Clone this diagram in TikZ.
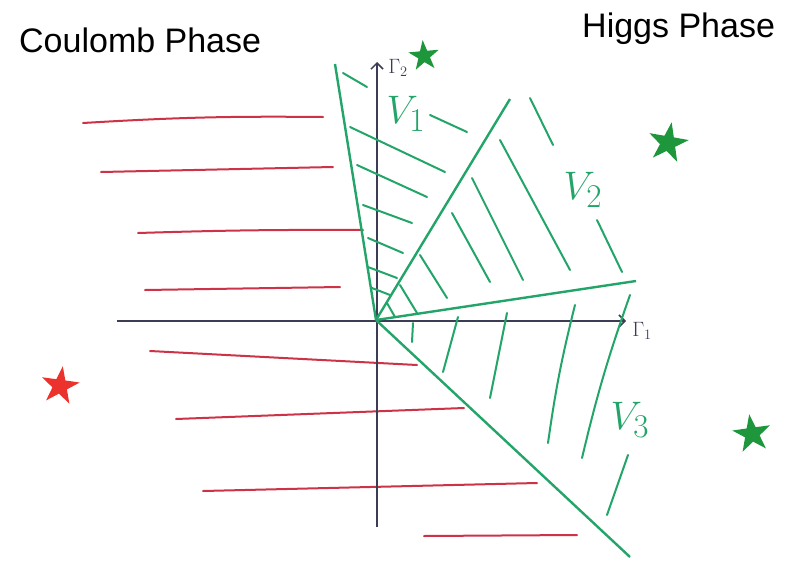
\documentclass[tikz,border=0pt]{standalone}
\usepackage{fontspec}
\setmainfont{Liberation Sans}
\usepackage{tikz}
\usetikzlibrary{shapes.geometric,arrows.meta}
\definecolor{wallgreen}{RGB}{35,165,105}
\definecolor{stargreen}{RGB}{30,150,60}
\definecolor{coulred}{RGB}{205,50,70}
\definecolor{starred}{RGB}{235,50,45}
\definecolor{axisgray}{RGB}{60,60,85}
\newcommand{\vname}[1]{\scalebox{1.6}{$V_{#1}$}}
\tikzset{
  wall/.style={draw=wallgreen, line width=2.4pt},
  hatch/.style={draw=wallgreen, line width=2pt, line cap=round},
  redline/.style={draw=coulred, line width=2pt, line cap=round},
  axis/.style={draw=axisgray, line width=1.5pt, -{Straight Barb[length=6pt,width=12pt]}},
  higgsstar/.style={star, star points=5, star point ratio=2.6, fill=stargreen, inner sep=0pt},
  coulstar/.style={star, star points=5, star point ratio=2.6, fill=starred, inner sep=0pt},
  phase/.style={font=\fontsize{34}{40}\selectfont, inner sep=0pt, anchor=base west},
  vlabel/.style={text=wallgreen, font=\fontsize{24.88}{28}\selectfont},
  glabel/.style={text=axisgray, font=\fontsize{20.74}{22}\selectfont}
}

\begin{document}
\begin{tikzpicture}[x=1pt, y=-1pt]
    \useasboundingbox (0,0) rectangle (790,560);
    \coordinate (O) at (376,320);
    \coordinate (x0) at (117,321);
    \coordinate (x1) at (626,321);
    \coordinate (y0) at (377,527);
    \coordinate (y1) at (377,62);
    \coordinate (w1) at (335,64);
    \coordinate (w2) at (510,99);
    \coordinate (w3) at (636,281);
    \coordinate (w4) at (630,557);
    \node[phase] (coulomb) at (19,52) {Coulomb Phase};
    \node[phase] (higgs) at (582,37) {Higgs Phase};
    % Coulomb side
    \draw[redline] (83,123) to[bend left=2] (323,117);
    \draw[redline] (101,172) -- (333,167);
    \draw[redline] (138,233) to[bend left=1] (363,230);
    \draw[redline] (145,290) -- (340,287);
    \draw[redline] (150,351) -- (417,365);
    \draw[redline] (176,419) -- (464,408);
    \draw[redline] (203,491) -- (537,483);
    \draw[redline] (424,536) -- (577,535);
    \node[coulstar, minimum size=40pt, rotate=-8] (s0) at (60,386) {};
    % axes
    \draw[axis] (x0) -- (x1);
    \draw[axis] (y0) -- (y1);
    \node[glabel] (g1) at (642,331) {$\Gamma_1$};
    \node[glabel] (g2) at (398,68) {$\Gamma_2$};
    % walls
    \draw[wall] (w1) -- (O);
    \draw[wall] (O) -- (w2);
    \draw[wall] (O) -- (w3);
    \draw[wall] (O) -- (w4);
    % V1
    \draw[hatch] (343,73) -- (367,87);
    \draw[hatch] (430,115) -- (467,132);
    \draw[hatch] (350,127) -- (445,172);
    \draw[hatch] (357,165) -- (427,197);
    \draw[hatch] (363,205) -- (412,223);
    \draw[hatch] (368,238) -- (403,253);
    \draw[hatch] (368,267) -- (397,278);
    \draw[hatch] (372,288) -- (390,295);
    % V2
    \draw[hatch] (530,98) -- (553,145);
    \draw[hatch] (500,140) -- (570,270);
    \draw[hatch] (472,178) -- (523,280);
    \draw[hatch] (452,213) -- (490,282);
    \draw[hatch] (420,255) -- (447,298);
    \draw[hatch] (400,285) -- (417,313);
    \draw[hatch] (387,303) -- (395,317);
    \draw[hatch] (597,220) -- (622,272);
    % V3
    \draw[hatch] (413,323) -- (412,342);
    \draw[hatch] (458,317) -- (443,372);
    \draw[hatch] (507,313) -- (490,398);
    \draw[hatch] (575,305) to[bend right=3] (548,443);
    \draw[hatch] (630,295) to[bend right=3] (582,458);
    \draw[hatch] (628,455) -- (607,515);
    \node[vlabel] (v1) at (406,114) {\vname{1}};
    \node[vlabel] (v2) at (583,190) {\vname{2}};
    \node[vlabel] (v3) at (630,420) {\vname{3}};
    % Higgs side
    \node[higgsstar, minimum size=32pt, rotate=5] (s1) at (424,56) {};
    \node[higgsstar, minimum size=42pt, rotate=-10] (s2) at (668,143) {};
    \node[higgsstar, minimum size=40pt, rotate=8] (s3) at (752,434) {};
  \end{tikzpicture}
\end{document}
